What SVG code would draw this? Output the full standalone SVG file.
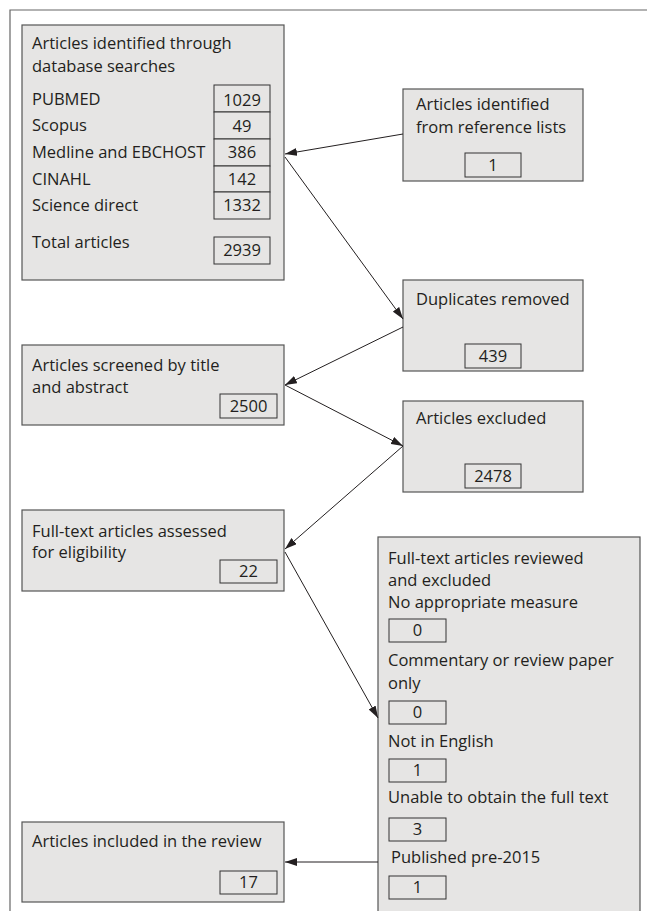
<svg xmlns="http://www.w3.org/2000/svg" width="647" height="911" viewBox="0 0 647 911">
<style>
.box{fill:#e6e5e4;stroke:#555;stroke-width:1.2}
.num{fill:#e6e5e4;stroke:#333;stroke-width:1}
.t{font-family:"Open Sans","Liberation Sans",Arial,sans-serif;font-size:16.5px;fill:#231f20}
.c{text-anchor:middle}
.ln{stroke:#231f20;stroke-width:1;fill:none}
</style>
<defs>
<marker id="ah" viewBox="0 0 12 8" refX="12" refY="4" markerWidth="12" markerHeight="8" markerUnits="userSpaceOnUse" orient="auto">
<path d="M0,0 L12,4 L0,8 Z" fill="#231f20"/>
</marker>
</defs>
<rect width="647" height="911" fill="#fff"/>
<path d="M10,911 V10 H647" fill="none" stroke="#666" stroke-width="1.2"/>

<g id="db">
<rect class="box" x="22" y="25" width="262" height="255"/>
<text class="t" x="32" y="49">Articles identified through</text>
<text class="t" x="32" y="72">database searches</text>
<text class="t" x="32" y="105">PUBMED</text>
<text class="t" x="32" y="131">Scopus</text>
<text class="t" x="32" y="158">Medline and EBCHOST</text>
<text class="t" x="32" y="185">CINAHL</text>
<text class="t" x="32" y="211">Science direct</text>
<text class="t" x="32" y="248">Total articles</text>
<rect class="num" x="214" y="85" width="56" height="27"/>
<rect class="num" x="214" y="112" width="56" height="27"/>
<rect class="num" x="214" y="139" width="56" height="27"/>
<rect class="num" x="214" y="166" width="56" height="26"/>
<rect class="num" x="214" y="192" width="56" height="27"/>
<rect class="num" x="214" y="237" width="56" height="27"/>
<text class="t c" x="242" y="106">1029</text>
<text class="t c" x="242" y="132">49</text>
<text class="t c" x="242" y="158">386</text>
<text class="t c" x="242" y="185">142</text>
<text class="t c" x="242" y="211">1332</text>
<text class="t c" x="242" y="256">2939</text>
</g>

<g id="ref">
<rect class="box" x="403" y="89" width="180" height="92"/>
<text class="t" x="416" y="110">Articles identified</text>
<text class="t" x="416" y="133">from reference lists</text>
<rect class="num" x="465" y="153" width="56" height="24"/>
<text class="t c" x="493" y="171">1</text>
</g>

<g id="dup">
<rect class="box" x="403" y="280" width="180" height="91"/>
<text class="t" x="416" y="305">Duplicates removed</text>
<rect class="num" x="465" y="344" width="56" height="24"/>
<text class="t c" x="493" y="362">439</text>
</g>

<g id="screened">
<rect class="box" x="22" y="345" width="262" height="80"/>
<text class="t" x="32" y="371">Articles screened by title</text>
<text class="t" x="32" y="393">and abstract</text>
<rect class="num" x="220" y="394" width="57" height="24"/>
<text class="t c" x="248.5" y="412">2500</text>
</g>

<g id="excluded">
<rect class="box" x="403" y="401" width="180" height="91"/>
<text class="t" x="416" y="424">Articles excluded</text>
<rect class="num" x="465" y="464" width="56" height="24"/>
<text class="t c" x="493" y="482">2478</text>
</g>

<g id="assessed">
<rect class="box" x="22" y="510" width="262" height="81"/>
<text class="t" x="32" y="537">Full-text articles assessed</text>
<text class="t" x="32" y="558">for eligibility</text>
<rect class="num" x="220" y="560" width="57" height="23"/>
<text class="t c" x="248.5" y="577">22</text>
</g>

<g id="reviewed">
<rect class="box" x="378" y="537" width="262" height="390"/>
<text class="t" x="388" y="564">Full-text articles reviewed</text>
<text class="t" x="388" y="586">and excluded</text>
<text class="t" x="388" y="608">No appropriate measure</text>
<rect class="num" x="389" y="619" width="57" height="23"/>
<text class="t c" x="417.5" y="636">0</text>
<text class="t" x="388" y="666">Commentary or review paper</text>
<text class="t" x="388" y="689">only</text>
<rect class="num" x="389" y="701" width="57" height="23"/>
<text class="t c" x="417.5" y="718">0</text>
<text class="t" x="388" y="747">Not in English</text>
<rect class="num" x="389" y="759" width="57" height="23"/>
<text class="t c" x="417.5" y="776">1</text>
<text class="t" x="388" y="803">Unable to obtain the full text</text>
<rect class="num" x="389" y="818" width="57" height="23"/>
<text class="t c" x="417.5" y="835">3</text>
<text class="t" x="391" y="863">Published pre-2015</text>
<rect class="num" x="389" y="876" width="57" height="23"/>
<text class="t c" x="417.5" y="893">1</text>
</g>

<g id="included">
<rect class="box" x="22" y="822" width="262" height="80"/>
<text class="t" x="32" y="847">Articles included in the review</text>
<rect class="num" x="220" y="871" width="57" height="23"/>
<text class="t c" x="248.5" y="888">17</text>
</g>

<g id="connectors">
<line class="ln" x1="403" y1="134" x2="285" y2="154" marker-end="url(#ah)"/>
<line class="ln" x1="285" y1="157" x2="403" y2="319" marker-end="url(#ah)"/>
<line class="ln" x1="403" y1="327" x2="285" y2="385" marker-end="url(#ah)"/>
<line class="ln" x1="285" y1="385" x2="403" y2="446" marker-end="url(#ah)"/>
<line class="ln" x1="403" y1="446" x2="285" y2="549" marker-end="url(#ah)"/>
<line class="ln" x1="285" y1="552" x2="378" y2="718" marker-end="url(#ah)"/>
<line class="ln" x1="378" y1="862" x2="285" y2="862" marker-end="url(#ah)"/>
</g>
</svg>
